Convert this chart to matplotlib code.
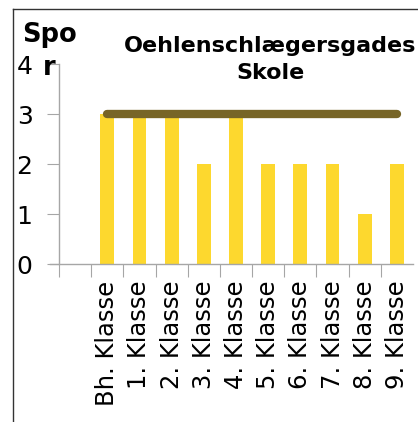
import matplotlib
matplotlib.use("Agg")
import matplotlib.pyplot as plt
from matplotlib.lines import Line2D

categories = ["", "Bh. Klasse", "1. Klasse", "2. Klasse", "3. Klasse", "4. Klasse",
              "5. Klasse", "6. Klasse", "7. Klasse", "8. Klasse", "9. Klasse"]
values = [None, 3, 3, 3, 2, 3, 2, 2, 2, 1, 2]
target = 3
title = "Oehlenschlægersgades\nSkole"
ylabel_lines = ["Spo", "r"]

plt.rcParams['font.family'] = ['DejaVu Sans']

fig = plt.figure(figsize=(4.18, 4.22), dpi=100)
ax = fig.add_axes([59/418, 1-264/422, (413-59)/418, 200/422])

xs = [i for i, v in enumerate(values) if v is not None]
vs = [v for v in values if v is not None]
ax.bar(xs, vs, width=0.43, color="#FDD82E", zorder=2)
ax.plot([xs[0], xs[-1]], [target, target], color="#776527", lw=6,
        solid_capstyle="round", zorder=3)

ax.set_xlim(-0.5, len(categories) - 0.5)
ax.set_ylim(0, 4)
ax.set_yticks([0, 1, 2, 3, 4])
ax.set_xticks([i - 0.5 for i in range(len(categories))], minor=False)
ax.set_xticklabels([])
ax.set_xticks(range(len(categories)), minor=True)
ax.set_xticklabels(categories, minor=True, rotation=90, fontsize=17.5)
ax.tick_params(axis='x', which='minor', length=0, pad=12)
ax.tick_params(axis='x', which='major', length=9, color="#A6A6A6", direction='out')
ax.tick_params(axis='y', length=9, color="#A6A6A6", labelsize=18, pad=10)
for s in ["top", "right"]:
    ax.spines[s].set_visible(False)
for s in ["left", "bottom"]:
    ax.spines[s].set_color("#A6A6A6")
    ax.spines[s].set_linewidth(1)
ax.spines["bottom"].set_bounds(-0.78, len(categories) - 0.5)

fig.text(270/418, 1-36/422, title, ha="center", va="top", fontsize=16,
         fontweight="bold", linespacing=1.42)
fig.text(49/418, 1-42/422, ylabel_lines[0], ha="center", va="baseline", fontsize=18.5,
         fontweight="bold")
fig.text(49/418, 1-75/422, ylabel_lines[1], ha="center", va="baseline", fontsize=18.5,
         fontweight="bold")

fig.add_artist(Line2D([13/418, 13/418], [0, 1-9/422], transform=fig.transFigure,
                      color="#333333", lw=1))
fig.add_artist(Line2D([13/418, 1], [1-9/422, 1-9/422], transform=fig.transFigure,
                      color="#333333", lw=1))

fig.savefig("out.png", dpi=100)
